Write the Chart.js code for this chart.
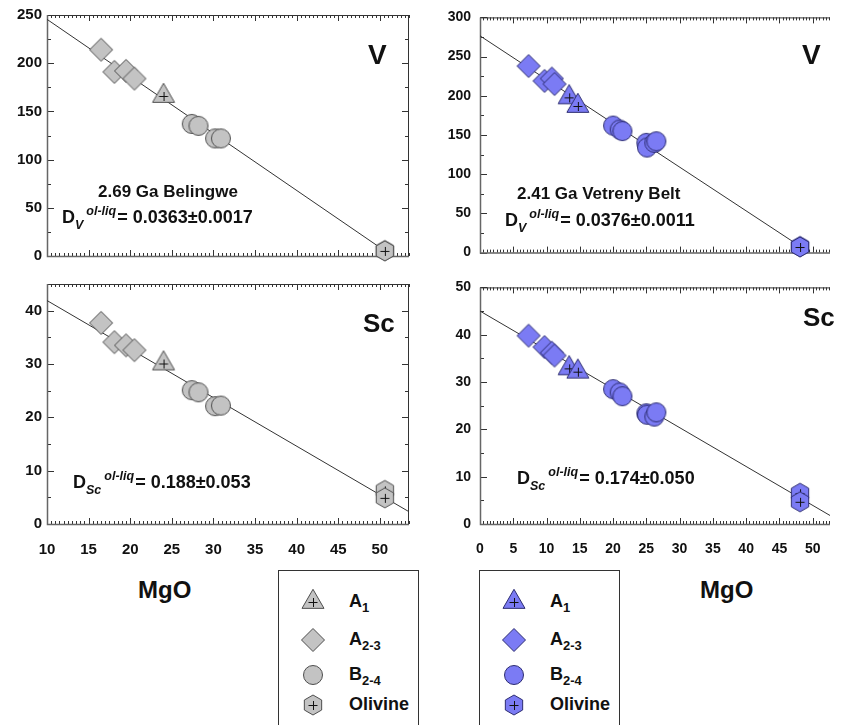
<!DOCTYPE html>
<html lang="en">
<head>
<meta charset="UTF-8">
<title>V and Sc vs MgO</title>
<script src="https://cdn.jsdelivr.net/npm/chart.js"></script>
<style>
  body { margin: 0; width: 841px; height: 725px; overflow: hidden; background: #fff; position: relative;
         font-family: "Liberation Sans", Arial, sans-serif; color: #111; }
  canvas { position: absolute; }
  .txt { position: absolute; font-weight: bold; white-space: nowrap; }
  .note1 { font-size: 17px; line-height: 17px; }
  .note2 { font-size: 18px; line-height: 18px; }
  .note2 sub, .note2 sup { font-style: italic; font-size: 12.5px; line-height: 0; }
  .note2 sub { vertical-align: -6px; margin-right: 3px; }
  .note2 sup { vertical-align: 8px; margin-right: 1px; }
  .elem { font-size: 28px; line-height: 28px; }
  .elem.sc { font-size: 26px; line-height: 26px; }
  .mgo { font-size: 24px; line-height: 24px; }
  .legbox { position: absolute; top: 570px; width: 139px; height: 170px; border: 1px solid #333; }
  .legtxt { font-size: 18px; line-height: 18px; }
  .legtxt sub { font-size: 13px; line-height: 0; vertical-align: -5px; }
</style>
</head>
<body>
  <canvas id="vBel" width="420" height="270" style="left:0;top:0"></canvas>
  <canvas id="vVet" width="421" height="270" style="left:420px;top:0"></canvas>
  <canvas id="scBel" width="420" height="290" style="left:0;top:270px"></canvas>
  <canvas id="scVet" width="421" height="290" style="left:420px;top:270px"></canvas>

  <div class="txt elem" style="left:368px;top:41px">V</div>
  <div class="txt elem" style="left:802px;top:41px">V</div>
  <div class="txt elem sc" style="left:363px;top:310px">Sc</div>
  <div class="txt elem sc" style="left:803px;top:304px">Sc</div>

  <div class="txt note1" style="left:98px;top:183px">2.69 Ga Belingwe</div>
  <div class="txt note2" style="left:62px;top:208px">D<sub>V</sub><sup>ol-liq</sup>= 0.0363±0.0017</div>
  <div class="txt note1" style="left:517px;top:185px">2.41 Ga Vetreny Belt</div>
  <div class="txt note2" style="left:505px;top:211px">D<sub>V</sub><sup>ol-liq</sup>= 0.0376±0.0011</div>
  <div class="txt note2" style="left:73px;top:473px">D<sub>Sc</sub><sup>ol-liq</sup>= 0.188±0.053</div>
  <div class="txt note2" style="left:517px;top:469px">D<sub>Sc</sub><sup>ol-liq</sup>= 0.174±0.050</div>

  <div class="txt mgo" style="left:138px;top:578px">MgO</div>
  <div class="txt mgo" style="left:700px;top:578px">MgO</div>

  <div class="legbox" style="left:278px"></div>
  <div class="legbox" style="left:479px"></div>

<script>
// Belingwe komatiites, 2.69 Ga (grey symbols)
const belA1MgO = [24.0];
const belA1V = [166];
const belA1Sc = [30.1];
const belA23MgO = [16.5, 18.1, 19.5, 20.5];
const belA23V = [214, 191, 192, 184];
const belA23Sc = [37.7, 34.1, 33.5, 32.6];
const belB24MgO = [27.4, 28.2, 30.2, 30.9];
const belB24V = [137, 135, 122, 122];
const belB24Sc = [25.1, 24.7, 22.1, 22.2];
const belOlMgO = [50.6, 50.6];
const belOlV = [5.7, 5.3];
const belOlSc = [6.3, 4.9];
// regression lines
const belFitVMgO = [10, 50.4];
const belFitV = [245.5, 6.5];
const belFitScMgO = [10, 53.5];
const belFitSc = [41.9, 2.3];

// Vetreny Belt komatiitic basalts, 2.41 Ga (blue symbols)
const vetA1MgO = [13.4, 14.7];
const vetA1V = [198, 187];
const vetA1Sc = [32.9, 32.2];
const vetA23MgO = [7.3, 9.7, 10.8, 11.2];
const vetA23V = [238, 219, 222, 215];
const vetA23Sc = [39.8, 37.4, 36.2, 35.6];
const vetB24MgO = [20.0, 21.0, 21.4, 25.0, 25.1, 26.2, 26.5];
const vetB24V = [162, 157, 155, 140, 134, 140, 142];
const vetB24Sc = [28.5, 27.8, 27.0, 23.4, 23.1, 22.7, 23.6];
const vetOlMgO = [48.1, 48.1];
const vetOlV = [7.8, 7.2];
const vetOlSc = [6.5, 4.7];
const vetFitVMgO = [0, 48.1];
const vetFitV = [276.5, 8];
const vetFitScMgO = [0, 52.6];
const vetFitSc = [45.0, 1.8];

const GREY = { fill: '#c3c3c3', stroke: '#4d4d4d' };
const BLUE = { fill: '#7b7bf4', stroke: '#2c2c70' };

// symbol sprites, used as Chart.js image point styles
function marker(shape, col) {
  const S = 30;
  const c = document.createElement('canvas');
  c.width = c.height = S;
  const g = c.getContext('2d');
  g.translate(S / 2, S / 2);
  g.fillStyle = col.fill;
  g.strokeStyle = col.stroke;
  g.lineWidth = 1;
  g.beginPath();
  let plus = false;
  if (shape === 'triangle') {
    const w = 22, h = w * Math.sqrt(3) / 2;
    g.moveTo(0, -2 * h / 3); g.lineTo(w / 2, h / 3); g.lineTo(-w / 2, h / 3);
    g.closePath();
    plus = true;
  } else if (shape === 'diamond') {
    const r = 11.5;
    g.moveTo(0, -r); g.lineTo(r, 0); g.lineTo(0, r); g.lineTo(-r, 0);
    g.closePath();
  } else if (shape === 'circle') {
    g.arc(0, 0, 9.5, 0, Math.PI * 2);
  } else if (shape === 'hexagon') {
    const r = 10;
    for (let i = 0; i < 6; i++) {
      const a = -Math.PI / 2 + i * Math.PI / 3;
      g.lineTo(r * Math.cos(a), r * Math.sin(a));
    }
    g.closePath();
    plus = true;
  }
  g.fill();
  g.stroke();
  if (plus) {
    g.beginPath();
    g.strokeStyle = '#111';
    g.moveTo(-4.5, 0.5); g.lineTo(4.5, 0.5);
    g.moveTo(0.5, -4); g.lineTo(0.5, 5);
    g.stroke();
  }
  return c;
}

function pts(xs, ys) {
  return xs.map((x, i) => ({ x: x, y: ys[i] }));
}

// box frame with inward minor/major ticks on all four sides
const framePlugin = {
  id: 'frame',
  beforeDatasetsDraw(chart, args, o) {
    const { ctx, chartArea: a, scales: { x, y } } = chart;
    ctx.save();
    ctx.strokeStyle = '#333';
    ctx.lineWidth = 1;
    ctx.beginPath();
    const nx = Math.round((x.max - x.min) / o.xMinor);
    for (let i = 0; i <= nx; i++) {
      const v = x.min + i * o.xMinor;
      const major = Math.abs(v / o.xMajor - Math.round(v / o.xMajor)) < 1e-6;
      const len = major ? 6 : 3;
      const px = Math.round(x.getPixelForValue(v)) + 0.5;
      ctx.moveTo(px, a.bottom); ctx.lineTo(px, a.bottom - len);
      ctx.moveTo(px, a.top); ctx.lineTo(px, a.top + len);
    }
    const ny = Math.round((y.max - y.min) / o.yMinor);
    for (let i = 0; i <= ny; i++) {
      const v = y.min + i * o.yMinor;
      const major = Math.abs(v / o.yMajor - Math.round(v / o.yMajor)) < 1e-6;
      const len = major ? 7 : 4;
      const py = Math.round(y.getPixelForValue(v)) + 0.5;
      ctx.moveTo(a.left, py); ctx.lineTo(a.left + len, py);
      if (o.rightEdge) { ctx.moveTo(a.right, py); ctx.lineTo(a.right - len, py); }
    }
    ctx.stroke();
    ctx.beginPath();
    ctx.moveTo(a.left, a.top + 0.5); ctx.lineTo(a.right, a.top + 0.5);
    if (o.rightEdge) { ctx.moveTo(a.right - 0.5, a.top); ctx.lineTo(a.right - 0.5, a.bottom); }
    ctx.stroke();
    ctx.strokeStyle = '#666';
    ctx.lineWidth = 1.5;
    ctx.beginPath();
    ctx.moveTo(a.left + 0.5, a.top); ctx.lineTo(a.left + 0.5, a.bottom + 0.5);
    ctx.lineTo(a.right, a.bottom + 0.5);
    ctx.stroke();
    ctx.restore();
  }
};

function panel(id, p) {
  const col = p.col;
  const sym = (data, shape, order) => ({
    data: data, pointStyle: marker(shape, col), pointRadius: 10, pointHoverRadius: 10,
    showLine: false, clip: false, order: order
  });
  return new Chart(document.getElementById(id), {
    type: 'scatter',
    data: {
      datasets: [
        { data: p.fit, showLine: true, borderColor: '#333', borderWidth: 1, pointRadius: 0, order: 10 },
        sym(p.ol, 'hexagon', 4),
        sym(p.b24, 'circle', 3),
        sym(p.a1, 'triangle', 2),
        sym(p.a23, 'diamond', 1)
      ]
    },
    options: {
      responsive: false,
      animation: false,
      events: [],
      layout: { padding: { top: p.padTop, right: p.padRight, left: 0, bottom: 0 } },
      plugins: {
        legend: { display: false },
        tooltip: { enabled: false },
        frame: { xMinor: 0.5, xMajor: 5, yMinor: p.yStep / 2, yMajor: p.yStep, rightEdge: p.rightEdge }
      },
      scales: {
        x: {
          type: 'linear', min: p.xMin, max: p.xMax,
          grid: { display: false }, border: { display: false },
          ticks: {
            display: p.xLabels, stepSize: 5, includeBounds: false, autoSkip: false, maxRotation: 0,
            padding: 9, color: '#111', font: { family: 'Liberation Sans', weight: 'bold', size: p.font }
          },
          afterFit: s => { s.height = p.xAxisH; }
        },
        y: {
          type: 'linear', min: 0, max: p.yMax,
          grid: { display: false, drawTicks: false }, border: { display: false },
          ticks: {
            stepSize: p.yStep, includeBounds: false, autoSkip: false,
            padding: p.yPad, color: '#111', font: { family: 'Liberation Sans', weight: 'bold', size: p.font }
          },
          afterFit: s => { s.width = p.yAxisW; }
        }
      }
    },
    plugins: [framePlugin]
  });
}

const leftCol = { xMin: 10, xMax: 53.5, yAxisW: 47, padRight: 3, yPad: 5, rightEdge: true, font: 15, col: GREY };
const rightCol = { xMin: 0, xMax: 52.6, yAxisW: 60, padRight: 0, yPad: 9, rightEdge: false, font: 14, col: BLUE };
const topRow = { padTop: 15, xAxisH: 8, xLabels: false };
const bottomRow = { padTop: 7, xAxisH: 36, xLabels: true };

panel('vBel', Object.assign({}, leftCol, topRow, {
  yMax: 250, yStep: 50,
  fit: pts(belFitVMgO, belFitV), ol: pts(belOlMgO, belOlV), b24: pts(belB24MgO, belB24V),
  a1: pts(belA1MgO, belA1V), a23: pts(belA23MgO, belA23V)
}));
panel('vVet', Object.assign({}, rightCol, topRow, {
  yMax: 300, yStep: 50,
  fit: pts(vetFitVMgO, vetFitV), ol: pts(vetOlMgO, vetOlV), b24: pts(vetB24MgO, vetB24V),
  a1: pts(vetA1MgO, vetA1V), a23: pts(vetA23MgO, vetA23V)
}));
panel('scBel', Object.assign({}, leftCol, bottomRow, {
  yMax: 45, yStep: 10,
  fit: pts(belFitScMgO, belFitSc), ol: pts(belOlMgO, belOlSc), b24: pts(belB24MgO, belB24Sc),
  a1: pts(belA1MgO, belA1Sc), a23: pts(belA23MgO, belA23Sc)
}));
panel('scVet', Object.assign({}, rightCol, bottomRow, {
  yMax: 50, yStep: 10,
  fit: pts(vetFitScMgO, vetFitSc), ol: pts(vetOlMgO, vetOlSc), b24: pts(vetB24MgO, vetB24Sc),
  a1: pts(vetA1MgO, vetA1Sc), a23: pts(vetA23MgO, vetA23Sc)
}));

// legends: one per suite
const legendLabels = ['A<sub>1</sub>', 'A<sub>2-3</sub>', 'B<sub>2-4</sub>', 'Olivine'];
const legendShapes = ['triangle', 'diamond', 'circle', 'hexagon'];
const legendRows = [602, 640, 675, 705];
function legend(x0, col) {
  legendShapes.forEach((shape, i) => {
    const cv = document.createElement('canvas');
    cv.width = cv.height = 30;
    cv.style.left = (x0 + 35 - 15) + 'px';
    cv.style.top = (legendRows[i] - 15) + 'px';
    cv.getContext('2d').drawImage(marker(shape, col), 0, 0);
    document.body.appendChild(cv);
    const t = document.createElement('div');
    t.className = 'txt legtxt';
    t.style.left = (x0 + 71) + 'px';
    t.style.top = (legendRows[i] - 10) + 'px';
    t.innerHTML = legendLabels[i];
    document.body.appendChild(t);
  });
}
legend(278, GREY);
legend(479, BLUE);
</script>
</body>
</html>
